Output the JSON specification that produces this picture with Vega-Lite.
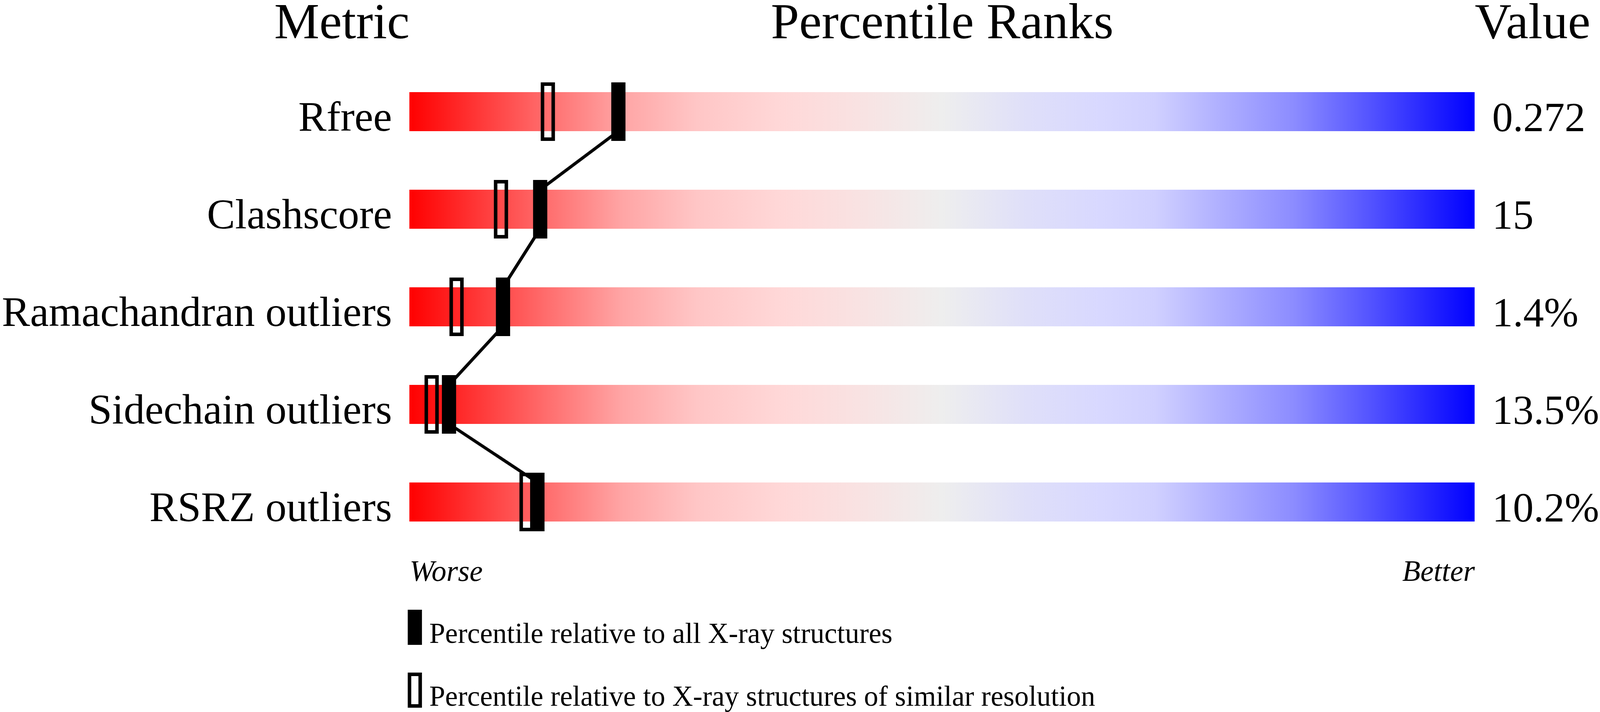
{
  "$schema": "https://vega.github.io/schema/vega-lite/v6.json",
  "autosize": {"type": "none"},
  "width": 2727,
  "height": 1250,
  "padding": {"left": 1048, "top": 161, "right": 321, "bottom": 413},
  "background": "white",
  "config": {"view": {"stroke": null}, "font": "Liberation Serif"},
  "datasets": {
    "metrics": [
      {"metric": "Rfree", "value": "0.272"},
      {"metric": "Clashscore", "value": "15"},
      {"metric": "Ramachandran outliers", "value": "1.4%"},
      {"metric": "Sidechain outliers", "value": "13.5%"},
      {"metric": "RSRZ outliers", "value": "10.2%"}
    ],
    "percentiles": [
      {"metric": "Rfree", "type": "Percentile relative to X-ray structures of similar resolution", "pct": 13.0},
      {"metric": "Clashscore", "type": "Percentile relative to X-ray structures of similar resolution", "pct": 8.6},
      {"metric": "Ramachandran outliers", "type": "Percentile relative to X-ray structures of similar resolution", "pct": 4.43},
      {"metric": "Sidechain outliers", "type": "Percentile relative to X-ray structures of similar resolution", "pct": 2.09},
      {"metric": "RSRZ outliers", "type": "Percentile relative to X-ray structures of similar resolution", "pct": 11.0},
      {"metric": "Rfree", "type": "Percentile relative to all X-ray structures", "pct": 19.62},
      {"metric": "Clashscore", "type": "Percentile relative to all X-ray structures", "pct": 12.28},
      {"metric": "Ramachandran outliers", "type": "Percentile relative to all X-ray structures", "pct": 8.79},
      {"metric": "Sidechain outliers", "type": "Percentile relative to all X-ray structures", "pct": 3.72},
      {"metric": "RSRZ outliers", "type": "Percentile relative to all X-ray structures", "pct": 12.02}
    ]
  },
  "layer": [
    {
      "data": {"name": "metrics"},
      "mark": {
        "type": "bar",
        "fill": {
          "gradient": "linear", "x1": 0, "y1": 0, "x2": 1, "y2": 0,
          "stops": [
            {"offset": 0, "color": "#ff0000"},
            {"offset": 0.07, "color": "#ff3c3c"},
            {"offset": 0.13, "color": "#ff6e6e"},
            {"offset": 0.2, "color": "#ffa5a5"},
            {"offset": 0.27, "color": "#ffc6c6"},
            {"offset": 0.35, "color": "#ffd8d8"},
            {"offset": 0.42, "color": "#f9e2e2"},
            {"offset": 0.5, "color": "#eeeeee"},
            {"offset": 0.58, "color": "#dfdff9"},
            {"offset": 0.65, "color": "#d8d8ff"},
            {"offset": 0.7, "color": "#d0d0ff"},
            {"offset": 0.76, "color": "#b0b0ff"},
            {"offset": 0.83, "color": "#8c8cff"},
            {"offset": 0.9, "color": "#5555ff"},
            {"offset": 1, "color": "#0000ff"}
          ]
        }
      },
      "encoding": {
        "y": {
          "field": "metric", "type": "nominal",
          "sort": ["Rfree", "Clashscore", "Ramachandran outliers", "Sidechain outliers", "RSRZ outliers"],
          "scale": {"paddingInner": 0.6, "paddingOuter": 0.3},
          "axis": {
            "orient": "left", "title": "Metric", "titleAngle": 0, "titleAlign": "right",
            "titleBaseline": "alphabetic", "titleX": 0, "titleY": -64, "titleFontSize": 130,
            "titleFont": "Liberation Serif", "titleFontWeight": "normal", "titleColor": "black",
            "labelFontSize": 108, "labelFont": "Liberation Serif", "labelColor": "black",
            "labelBaseline": "alphabetic", "labelOffset": 49, "labelPadding": 45,
            "ticks": false, "tickSize": 0, "domain": false, "grid": false, "labelLimit": 0
          }
        },
        "x": {
          "datum": 0, "type": "quantitative",
          "scale": {"domain": [0, 100], "nice": false, "zero": false},
          "axis": {
            "orient": "top", "title": "Percentile Ranks", "labels": false, "ticks": false,
            "domain": false, "grid": false, "titleX": 1363.5, "titleY": -64, "titleAlign": "center",
            "titleBaseline": "alphabetic", "titleFontSize": 130, "titleFont": "Liberation Serif",
            "titleFontWeight": "normal", "titleColor": "black", "titleLimit": 0
          }
        },
        "x2": {"datum": 100}
      }
    },
    {
      "data": {"name": "percentiles"},
      "transform": [
        {"filter": "datum.type == 'Percentile relative to all X-ray structures'"},
        {"window": [
          {"op": "lead", "field": "pct", "as": "next_pct"},
          {"op": "lead", "field": "metric", "as": "next_metric"}
        ]},
        {"filter": "datum.next_metric != null"}
      ],
      "mark": {"type": "rule", "strokeWidth": 8, "color": "black"},
      "encoding": {
        "x": {"field": "pct", "type": "quantitative", "axis": null},
        "x2": {"field": "next_pct"},
        "y": {
          "field": "metric", "type": "nominal", "bandPosition": 1,
          "sort": ["Rfree", "Clashscore", "Ramachandran outliers", "Sidechain outliers", "RSRZ outliers"],
          "axis": null
        },
        "y2": {"field": "next_metric", "bandPosition": 0}
      }
    },
    {
      "data": {"name": "percentiles"},
      "mark": {
        "type": "point", "shape": "M-0.1943,-1L0.1943,-1L0.1943,1L-0.1943,1Z",
        "size": 19881, "stroke": "black", "strokeWidth": 9, "opacity": 1, "filled": true
      },
      "encoding": {
        "x": {
          "field": "pct", "type": "quantitative",
          "axis": {
            "orient": "bottom", "values": [0, 100],
            "labelExpr": "datum.value == 0 ? 'Worse' : 'Better'",
            "labelFlush": true, "labelFontStyle": "italic", "labelFontSize": 76,
            "labelFont": "Liberation Serif", "labelBaseline": "alphabetic", "labelPadding": 76,
            "ticks": false, "tickSize": 0, "domain": false, "grid": false, "title": null,
            "labelColor": "black", "labelLimit": 0, "labelOverlap": false
          }
        },
        "y": {
          "field": "metric", "type": "nominal",
          "sort": ["Rfree", "Clashscore", "Ramachandran outliers", "Sidechain outliers", "RSRZ outliers"],
          "axis": {
            "orient": "right", "title": "Value", "labels": false, "ticks": false, "domain": false,
            "grid": false, "titleAngle": 0, "titleAlign": "left", "titleBaseline": "alphabetic",
            "titleX": 0, "titleY": -64, "titleFontSize": 130, "titleFont": "Liberation Serif",
            "titleFontWeight": "normal", "titleColor": "black"
          }
        },
        "fill": {
          "field": "type", "type": "nominal",
          "scale": {
            "domain": ["Percentile relative to all X-ray structures", "Percentile relative to X-ray structures of similar resolution"],
            "range": ["black", "transparent"]
          },
          "legend": {
            "orient": "none", "legendX": -31, "legendY": 1441, "title": null,
            "direction": "vertical", "labelFontSize": 73, "labelFont": "Liberation Serif",
            "labelColor": "black", "labelLimit": 0, "labelOffset": -8, "rowPadding": 43,
            "padding": 0, "symbolType": "M-0.338,-1.99L0.338,-1.99L0.338,0.01L-0.338,0.01Z",
            "symbolSize": 6561, "symbolStrokeWidth": 9, "symbolStrokeColor": "black",
            "labelBaseline": "alphabetic",
            "encode": {
              "symbols": {"update": {
                "shape": {"value": "M-0.338,-1.99L0.338,-1.99L0.338,0.01L-0.338,0.01Z"},
                "size": {"value": 6561},
                "stroke": {"value": "black"},
                "strokeWidth": {"value": 9},
                "opacity": {"value": 1}
              }}
            }
          }
        }
      }
    },
    {
      "data": {"name": "metrics"},
      "mark": {
        "type": "text", "align": "left", "baseline": "alphabetic", "dx": 45, "dy": 50,
        "fontSize": 106, "font": "Liberation Serif", "color": "black"
      },
      "encoding": {
        "x": {"datum": 100, "type": "quantitative", "axis": null},
        "y": {
          "field": "metric", "type": "nominal",
          "sort": ["Rfree", "Clashscore", "Ramachandran outliers", "Sidechain outliers", "RSRZ outliers"],
          "axis": null
        },
        "text": {"field": "value"}
      }
    }
  ],
  "resolve": {"axis": {"x": "independent", "y": "independent"}}
}
